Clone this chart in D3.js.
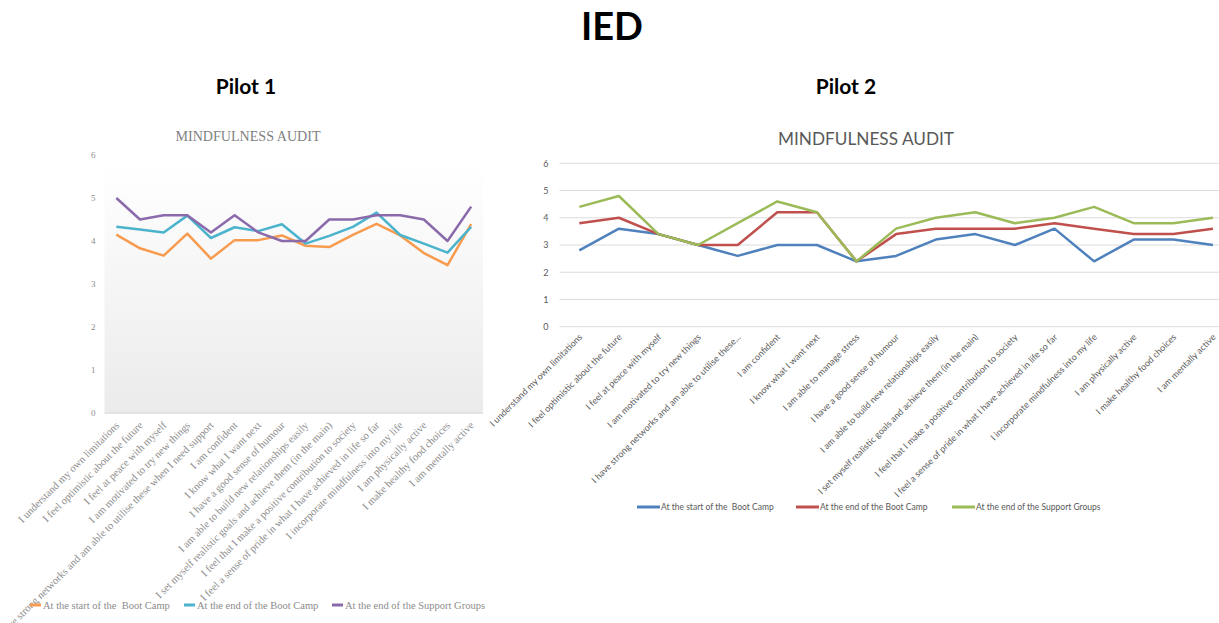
<!DOCTYPE html>
<html>
<head>
<meta charset="utf-8">
<script src="https://cdn.jsdelivr.net/npm/d3@7"></script>
<style>
  html, body { margin: 0; padding: 0; background: #fff; }
  svg { display: block; }
  .legend-label { white-space: pre; }
</style>
</head>
<body>
<svg id="chart" width="1219" height="623"></svg>
<script>
// ---- Pilot 1 data ----
const pilot1Items = [
  "I understand my own limitations",
  "I feel optimistic about the future",
  "I feel at peace with myself",
  "I am motivated to try new things",
  "I have strong networks and am able to utilise these when I need support",
  "I am confident",
  "I know what I want next",
  "I have a good sense of humour",
  "I am able to build new relationships easily",
  "I set myself realistic goals and achieve them (in the main)",
  "I feel that I make a positive contribution to society",
  "I feel a sense of pride in what I have achieved in life so far",
  "I incorporate mindfulness into my life",
  "I am physically active",
  "I make healthy food choices",
  "I am mentally active"
];
const pilot1Start = [4.15, 3.83, 3.66, 4.17, 3.59, 4.02, 4.02, 4.13, 3.89, 3.86, 4.14, 4.40, 4.13, 3.72, 3.44, 4.39];
const pilot1EndCamp = [4.33, 4.27, 4.20, 4.59, 4.07, 4.32, 4.23, 4.39, 3.94, 4.12, 4.33, 4.66, 4.14, 3.94, 3.73, 4.33];
const pilot1EndGroups = [5.0, 4.5, 4.6, 4.6, 4.2, 4.6, 4.2, 4.0, 4.0, 4.5, 4.5, 4.6, 4.6, 4.5, 4.0, 4.8];

// ---- Pilot 2 data ----
const pilot2Items = [
  "I understand my own limitations",
  "I feel optimistic about the future",
  "I feel at peace with myself",
  "I am motivated to try new things",
  "I have strong networks and am able to utilise these...",
  "I am confident",
  "I know what I want next",
  "I am able to manage stress",
  "I have a good sense of humour",
  "I am able to build new relationships easily",
  "I set myself realistic goals and achieve them (in the main)",
  "I feel that I make a positive contribution to society",
  "I feel a sense of pride in what I have achieved in life so far",
  "I incorporate mindfulness into my life",
  "I am physically active",
  "I make healthy food choices",
  "I am mentally active"
];
const pilot2Start = [2.8, 3.6, 3.4, 3.0, 2.6, 3.0, 3.0, 2.4, 2.6, 3.2, 3.4, 3.0, 3.6, 2.4, 3.2, 3.2, 3.0];
const pilot2EndCamp = [3.8, 4.0, 3.4, 3.0, 3.0, 4.2, 4.2, 2.4, 3.4, 3.6, 3.6, 3.6, 3.8, 3.6, 3.4, 3.4, 3.6];
const pilot2EndGroups = [4.4, 4.8, 3.4, 3.0, 3.8, 4.6, 4.2, 2.4, 3.6, 4.0, 4.2, 3.8, 4.0, 4.4, 3.8, 3.8, 4.0];

const seriesNames = ["At the start of the  Boot Camp", "At the end of the Boot Camp", "At the end of the Support Groups"];
const yTicks = [0, 1, 2, 3, 4, 5, 6];
const chartTitle = "MINDFULNESS AUDIT";

const svg = d3.select("#chart");

// ---- headings ----
svg.append("text").attr("x", 612).attr("y", 40).attr("text-anchor", "middle")
  .style("font-family", "Lato, 'Open Sans', sans-serif").style("font-weight", 700)
  .style("font-size", "38px").attr("fill", "#000").text("IED");
svg.append("text").attr("x", 246).attr("y", 94).attr("text-anchor", "middle")
  .style("font-family", "Lato, 'Open Sans', sans-serif").style("font-weight", 700)
  .style("font-size", "21px").attr("fill", "#000").text("Pilot 1");
svg.append("text").attr("x", 846).attr("y", 94).attr("text-anchor", "middle")
  .style("font-family", "Lato, 'Open Sans', sans-serif").style("font-weight", 700)
  .style("font-size", "21px").attr("fill", "#000").text("Pilot 2");

// ================= Pilot 1 chart =================
(function () {
  const g = svg.append("g");
  const left = 104.5, right = 483, top = 155, bottom = 413;
  const x = d3.scalePoint().domain(pilot1Items).range([left, right]).padding(0.5);
  const y = d3.scaleLinear().domain([0, 6]).range([bottom, top]);
  const serif = "'Liberation Serif', 'DejaVu Serif', serif";
  const colors = ["#f79b4f", "#4bb3cc", "#8a6aab"];

  const defs = svg.append("defs");
  const grad = defs.append("linearGradient").attr("id", "p1bg")
    .attr("x1", 0).attr("y1", 0).attr("x2", 0).attr("y2", 1);
  grad.append("stop").attr("offset", "0%").attr("stop-color", "#ffffff");
  grad.append("stop").attr("offset", "100%").attr("stop-color", "#ebebeb");
  g.append("rect").attr("x", left).attr("y", y(5.8)).attr("width", right - left)
    .attr("height", bottom - y(5.8)).attr("fill", "url(#p1bg)");

  g.append("text").attr("x", 248).attr("y", 141).attr("text-anchor", "middle")
    .attr("textLength", 145).attr("lengthAdjust", "spacingAndGlyphs")
    .style("font-family", serif).style("font-size", "14px").attr("fill", "#7f7f7f")
    .text(chartTitle);

  // y axis
  const ya = g.append("g").attr("transform", `translate(${left - 6},0)`)
    .call(d3.axisLeft(y).tickValues(yTicks).tickSize(0).tickFormat(d3.format("d")));
  ya.select(".domain").remove();
  ya.selectAll("text").style("font-family", serif).style("font-size", "9px").attr("fill", "#8c8c8c");

  // x axis line
  g.append("line").attr("x1", left).attr("x2", right).attr("y1", bottom).attr("y2", bottom)
    .attr("stroke", "#dedede").attr("stroke-width", 1.5);

  // x labels
  const xa = g.append("g").attr("transform", `translate(0,${bottom})`)
    .call(d3.axisBottom(x).tickSize(0));
  xa.select(".domain").remove();
  xa.selectAll("text")
    .attr("text-anchor", "end").attr("dy", 0).attr("y", 0)
    .attr("transform", "translate(3,13) rotate(-45)")
    .style("font-family", serif).style("font-size", "10.6px").attr("fill", "#8c8c8c");

  // lines
  const line = d3.line().x((d, i) => x(pilot1Items[i])).y(d => y(d));
  [pilot1Start, pilot1EndCamp, pilot1EndGroups].forEach((s, k) => {
    g.append("path").datum(s).attr("d", line).attr("fill", "none")
      .attr("stroke", colors[k]).attr("stroke-width", 2.5).attr("stroke-linejoin", "round");
  });

  // legend
  const legX = [30, 184, 332];
  seriesNames.forEach((n, k) => {
    g.append("line").attr("x1", legX[k]).attr("x2", legX[k] + 11).attr("y1", 605).attr("y2", 605)
      .attr("stroke", colors[k]).attr("stroke-width", 3);
    g.append("text").attr("class", "legend-label").attr("x", legX[k] + 13).attr("y", 609)
      .style("font-family", serif).style("font-size", "10.5px").attr("fill", "#8c8c8c").text(n);
  });
})();

// ================= Pilot 2 chart =================
(function () {
  const g = svg.append("g");
  const left = 559.5, step = 39.6;
  const right = left + step * pilot2Items.length;
  const top = 163.3, bottom = 326.7;
  const x = d3.scalePoint().domain(pilot2Items).range([left, right]).padding(0.5);
  const y = d3.scaleLinear().domain([0, 6]).range([bottom, top]);
  const sans = "Lato, 'Open Sans', sans-serif";
  const colors = ["#4f81bd", "#c0504d", "#9bbb59"];

  g.append("text").attr("x", 866).attr("y", 145).attr("text-anchor", "middle")
    .attr("textLength", 176).attr("lengthAdjust", "spacingAndGlyphs")
    .style("font-family", sans).style("font-size", "17px").attr("fill", "#595959")
    .text(chartTitle);

  // gridlines
  g.append("g").selectAll("line").data(yTicks).join("line")
    .attr("x1", left).attr("x2", 1219).attr("y1", d => y(d)).attr("y2", d => y(d))
    .attr("stroke", "#dcdcdc").attr("stroke-width", 1);

  const ya = g.append("g").attr("transform", `translate(${left - 8},0)`)
    .call(d3.axisLeft(y).tickValues(yTicks).tickSize(0).tickFormat(d3.format("d")));
  ya.select(".domain").remove();
  ya.selectAll("text").style("font-family", sans).style("font-size", "9px").attr("fill", "#595959");

  const xa = g.append("g").attr("transform", `translate(0,${bottom})`)
    .call(d3.axisBottom(x).tickSize(0));
  xa.select(".domain").remove();
  xa.selectAll("text")
    .attr("text-anchor", "end").attr("dy", 0).attr("y", 0)
    .attr("transform", "translate(3,11) rotate(-45)")
    .style("font-family", sans).style("font-size", "9px").attr("fill", "#595959");

  const line = d3.line().x((d, i) => x(pilot2Items[i])).y(d => y(d));
  [pilot2Start, pilot2EndCamp, pilot2EndGroups].forEach((s, k) => {
    g.append("path").datum(s).attr("d", line).attr("fill", "none")
      .attr("stroke", colors[k]).attr("stroke-width", 2.5).attr("stroke-linejoin", "round");
  });

  const legX = [637, 796, 952];
  seriesNames.forEach((n, k) => {
    g.append("line").attr("x1", legX[k]).attr("x2", legX[k] + 23).attr("y1", 507).attr("y2", 507)
      .attr("stroke", colors[k]).attr("stroke-width", 3);
    g.append("text").attr("class", "legend-label").attr("x", legX[k] + 24).attr("y", 510)
      .style("font-family", sans).style("font-size", "8.5px").attr("fill", "#595959").text(n);
  });
})();
</script>
</body>
</html>
